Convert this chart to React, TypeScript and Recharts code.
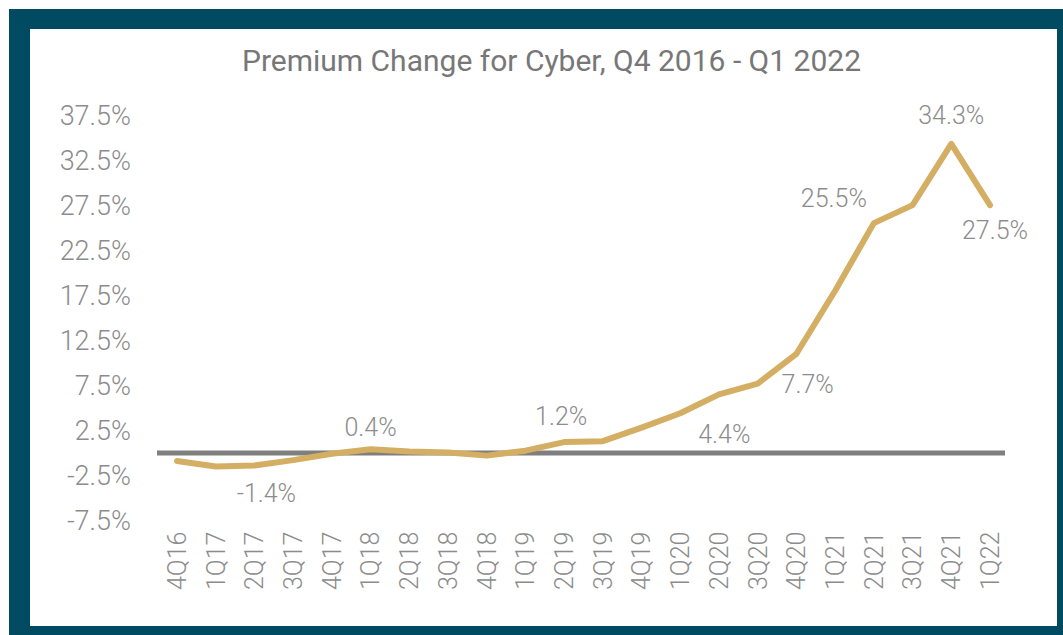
import React from 'react';
import { LineChart, Line, XAxis, YAxis, ReferenceLine, LabelList } from 'recharts';

const quarters = [
  '4Q16', '1Q17', '2Q17', '3Q17', '4Q17', '1Q18', '2Q18', '3Q18', '4Q18', '1Q19', '2Q19',
  '3Q19', '4Q19', '1Q20', '2Q20', '3Q20', '4Q20', '1Q21', '2Q21', '3Q21', '4Q21', '1Q22',
];

const premiumChange = [
  -0.9, -1.5, -1.4, -0.8, -0.1, 0.4, 0.15, 0.05, -0.3, 0.25, 1.2,
  1.3, 2.8, 4.4, 6.5, 7.7, 11.0, 18.0, 25.5, 27.5, 34.3, 27.5,
];

const yTicks = [-7.5, -2.5, 2.5, 7.5, 12.5, 17.5, 22.5, 27.5, 32.5, 37.5];

// data labels shown on the chart (by quarter)
const pointLabels: Record<string, string> = {
  '2Q17': '-1.4%',
  '1Q18': '0.4%',
  '2Q19': '1.2%',
  '1Q20': '4.4%',
  '3Q20': '7.7%',
  '2Q21': '25.5%',
  '4Q21': '34.3%',
  '1Q22': '27.5%',
};

// where each label sits relative to its point [dx, dy]
const labelOffsets: Record<string, [number, number]> = {
  '2Q17': [12, 28],
  '1Q18': [0, -22],
  '2Q19': [-3, -26],
  '1Q20': [44, 21],
  '3Q20': [50, 1],
  '2Q21': [-40, -25],
  '4Q21': [0, -29],
  '1Q22': [5, 25],
};

const data = quarters.map((q, i) => ({ q, value: premiumChange[i], label: pointLabels[q] ?? '' }));

const FONT = 'Roboto, sans-serif';
const TEXT = '#8c8c8c';
const GOLD = '#d4ae63';
const TEAL = '#004a62';

function QuarterTick(props: any) {
  const { x, y, payload } = props;
  return (
    <text
      transform={`translate(${x}, ${y + 3}) rotate(-90)`}
      textAnchor="end"
      dy="0.355em"
      fontSize={25}
      fontWeight={300}
      fontFamily={FONT}
      fill={TEXT}
    >
      {payload.value}
    </text>
  );
}

function PointLabel(props: any) {
  const { x, y, index } = props;
  const q = quarters[index];
  const text = pointLabels[q];
  if (!text) return null;
  const [dx, dy] = labelOffsets[q] ?? [0, -20];
  return (
    <text
      x={x + dx}
      y={y + dy}
      dy="0.355em"
      textAnchor="middle"
      fontSize={25}
      fontWeight={300}
      fontFamily={FONT}
      fill={TEXT}
    >
      {text}
    </text>
  );
}

export default function App() {
  return (
    <div style={{ position: 'absolute', left: 0, top: 0, width: 1063, height: 635, background: '#fff', overflow: 'hidden' }}>
      <div style={{ position: 'absolute', left: 9, top: 9, width: 1054, height: 626, background: TEAL }} />
      <div style={{ position: 'absolute', left: 30, top: 29, width: 1027, height: 597, background: '#fff' }} />
      <div
        style={{
          position: 'absolute',
          left: 0,
          width: 1103,
          top: 44,
          textAlign: 'center',
          fontFamily: FONT,
          fontSize: 30,
          color: '#777',
          lineHeight: '34px',
        }}
      >
        Premium Change for Cyber, Q4 2016 - Q1 2022
      </div>
      <div style={{ position: 'absolute', left: 0, top: 0 }}>
        <LineChart width={1063} height={635} data={data} margin={{ top: 115, right: 58, left: 0, bottom: 0 }}>
          <YAxis
            type="number"
            domain={[-7.5, 37.5]}
            ticks={yTicks}
            width={157}
            axisLine={false}
            tickLine={false}
            tickSize={0}
            tickMargin={26}
            tickFormatter={(v: number) => `${v.toFixed(1)}%`}
            tick={{ fontSize: 27, fontWeight: 300, fontFamily: FONT, fill: TEXT }}
            interval={0}
          />
          <XAxis
            dataKey="q"
            interval={0}
            axisLine={false}
            tickLine={false}
            height={114.5}
            padding={{ left: 20, right: 15 }}
            tick={<QuarterTick />}
          />
          <ReferenceLine y={0} stroke="#7f7f7f" strokeWidth={5} />
          <Line
            type="linear"
            dataKey="value"
            stroke={GOLD}
            strokeWidth={6}
            strokeLinejoin="round"
            strokeLinecap="round"
            dot={false}
            activeDot={false}
            isAnimationActive={false}
          >
            <LabelList dataKey="label" content={<PointLabel />} />
          </Line>
        </LineChart>
      </div>
    </div>
  );
}
